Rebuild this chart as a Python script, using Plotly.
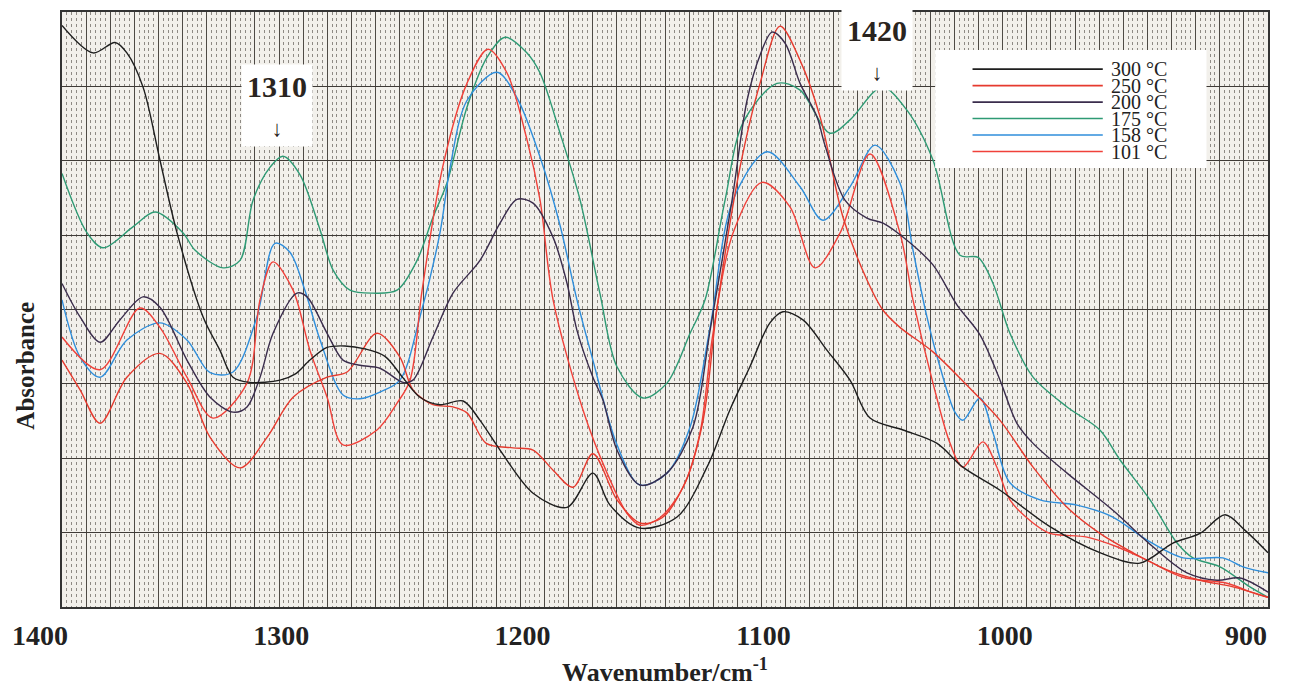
import plotly.graph_objects as go

# ---------------- data (wavenumber in cm-1, absorbance in arbitrary units) ----------------
wn_300 = [1400, 1387.1, 1378.0, 1373.1, 1366.4, 1359.4, 1352.3, 1341.5, 1334.5, 1329.1,
          1322.1, 1309.6, 1303.4, 1297.2, 1290.1, 1282.7, 1274.4, 1266.1, 1258.6, 1251.6,
          1243.3, 1233.7, 1226.7, 1218.4, 1204.7, 1190.6, 1179.9, 1172.8, 1160.4, 1145.0,
          1132.6, 1123.1, 1114.8, 1106.5, 1101.1, 1092.8, 1082.8, 1073.3, 1065.0, 1051.3,
          1037.2, 1026.5, 1011.1, 990.4, 969.7, 953.1, 939.4, 928.2, 917.8, 909.5, 900]
abs_300 = [7.82, 7.45, 7.59, 7.45, 6.99, 6.01, 5.03, 3.90, 3.45, 3.09,
           3.02, 3.05, 3.13, 3.32, 3.49, 3.51, 3.47, 3.37, 3.08, 2.82,
           2.72, 2.77, 2.51, 2.11, 1.53, 1.34, 1.80, 1.37, 1.06, 1.21,
           1.88, 2.65, 3.23, 3.82, 3.97, 3.86, 3.45, 3.05, 2.54, 2.38,
           2.20, 1.88, 1.57, 1.08, 0.73, 0.59, 0.86, 0.99, 1.24, 1.03, 0.73]

wn_250 = [1400, 1392.5, 1384.2, 1373.1, 1359.4, 1348.2, 1338.6, 1326.2, 1315.0, 1304.2,
          1290.1, 1281.8, 1269.4, 1259.9, 1254.5, 1246.2, 1237.9, 1232.1, 1224.1, 1213.0,
          1204.7, 1196.4, 1188.1, 1179.9, 1169.9, 1160.4, 1151.2, 1141.7, 1134.2, 1128.4,
          1118.9, 1110.6, 1102.3, 1094.0, 1085.7, 1076.2, 1066.3, 1059.6, 1052.6, 1038.9,
          1024.8, 1011.1, 997.4, 983.3, 969.7, 956.0, 941.9, 928.2, 914.5, 900]
abs_250 = [3.32, 2.92, 2.47, 3.09, 3.41, 3.01, 2.28, 1.87, 2.28, 2.82,
           3.09, 3.16, 3.68, 3.36, 2.92, 2.72, 2.69, 2.61, 2.20, 2.14,
           2.11, 1.84, 1.61, 2.06, 1.44, 1.13, 1.20, 1.67, 2.51, 4.03,
           5.91, 7.04, 7.81, 7.35, 6.59, 5.24, 4.40, 3.99, 3.76, 3.43,
           2.98, 2.51, 1.88, 1.34, 0.99, 0.73, 0.50, 0.36, 0.27, 0.13]

wn_200 = [1400, 1392.5, 1384.2, 1376.0, 1366.4, 1359.4, 1348.2, 1338.6, 1329.1, 1323.3,
          1317.9, 1312.5, 1302.6, 1298.4, 1290.1, 1283.5, 1276.5, 1268.2, 1258.6, 1254.5,
          1246.2, 1237.9, 1226.7, 1218.4, 1211.4, 1204.7, 1196.4, 1190.6, 1186.5, 1179.9,
          1175.7, 1169.9, 1160.4, 1149.2, 1138.4, 1131.3, 1122.2, 1116.0, 1110.6, 1105.6,
          1100.2, 1094.0, 1087.0, 1083.7, 1075.4, 1066.3, 1059.6, 1049.7, 1038.9, 1028.9,
          1019.4, 1011.1, 1004.1, 997.4, 983.3, 964.3, 947.7, 933.6, 921.1, 911.6, 900]
abs_200 = [4.35, 3.90, 3.56, 3.86, 4.17, 4.03, 3.32, 2.82, 2.62, 2.69,
           3.09, 3.68, 4.22, 4.17, 3.68, 3.32, 3.25, 3.21, 3.02, 3.05,
           3.63, 4.22, 4.66, 5.16, 5.48, 5.43, 4.97, 4.35, 3.72, 3.09,
           2.78, 2.11, 1.64, 1.80, 2.42, 3.72, 5.47, 6.81, 7.42, 7.73,
           7.58, 7.04, 6.59, 6.21, 5.47, 5.23, 5.16, 4.93, 4.60, 4.06,
           3.66, 3.05, 2.47, 2.20, 1.80, 1.30, 0.81, 0.46, 0.36, 0.39, 0.20]

wn_175 = [1400, 1389.6, 1383.0, 1370.6, 1361.4, 1349.8, 1344.9, 1333.2, 1326.2, 1320.8,
          1313.8, 1308.4, 1301.3, 1293.0, 1287.6, 1280.6, 1271.1, 1261.1, 1252.8, 1246.2,
          1240.4, 1232.1, 1223.8, 1216.3, 1207.2, 1201.8, 1193.5, 1185.2, 1177.0, 1169.9,
          1159.1, 1149.2, 1139.6, 1133.4, 1125.1, 1117.7, 1103.6, 1094.0, 1081.6, 1073.3,
          1060.0, 1049.7, 1038.9, 1027.7, 1020.2, 1014.0, 1007.0, 997.4, 983.3, 969.7,
          961.4, 948.9, 937.7, 931.1, 919.9, 907.5, 900]
abs_175 = [5.83, 5.03, 4.83, 5.11, 5.31, 5.03, 4.80, 4.56, 4.66, 5.47,
           5.91, 6.06, 5.81, 5.07, 4.53, 4.26, 4.22, 4.26, 4.66, 5.24,
           5.70, 6.72, 7.39, 7.66, 7.45, 7.18, 6.37, 5.47, 4.22, 3.23,
           2.81, 3.01, 3.68, 4.13, 5.47, 6.51, 7.04, 6.95, 6.37, 6.55,
           6.99, 6.68, 6.01, 4.73, 4.70, 4.35, 3.68, 3.09, 2.69, 2.38,
           1.98, 1.44, 0.86, 0.66, 0.54, 0.27, 0.13]

wn_158 = [1400, 1392.5, 1384.2, 1373.1, 1359.4, 1348.2, 1338.6, 1329.1, 1319.2, 1311.7,
          1305.5, 1299.3, 1293.0, 1283.5, 1276.5, 1268.2, 1259.9, 1251.6, 1243.3, 1239.1,
          1232.1, 1219.7, 1211.4, 1201.8, 1193.5, 1186.5, 1179.9, 1169.9, 1160.4, 1149.2,
          1139.6, 1131.3, 1121.8, 1107.7, 1094.0, 1084.5, 1073.3, 1062.9, 1052.6, 1047.2,
          1041.4, 1036.0, 1029.8, 1026.5, 1019.4, 1014.0, 1007.0, 994.5, 979.2, 964.3,
          950.2, 935.2, 918.7, 910.4, 900]
abs_158 = [4.13, 3.36, 3.09, 3.59, 3.82, 3.59, 3.15, 3.16, 3.90, 4.89,
           4.77, 4.26, 3.59, 2.85, 2.80, 2.89, 3.05, 3.90, 5.03, 5.91,
           6.81, 7.19, 6.85, 6.05, 5.13, 4.13, 3.32, 2.18, 1.64, 1.80,
           2.42, 3.76, 5.47, 6.12, 5.65, 5.20, 5.65, 6.21, 5.70, 4.80,
           3.90, 3.23, 2.62, 2.51, 2.81, 2.34, 1.67, 1.44, 1.37, 1.21,
           0.90, 0.66, 0.66, 0.54, 0.46]

wn_101 = [1400, 1384.2, 1367.7, 1359.4, 1348.2, 1337.4, 1323.3, 1317.9, 1312.5, 1304.2,
          1297.2, 1290.1, 1283.5, 1269.4, 1261.1, 1255.7, 1250.7, 1242.0, 1232.1, 1223.4,
          1215.5, 1207.2, 1201.8, 1196.4, 1184.0, 1174.0, 1165.8, 1160.4, 1152.1, 1142.5,
          1135.5, 1130.1, 1121.8, 1109.8, 1098.2, 1087.8, 1077.4, 1065.0, 1052.6, 1047.2,
          1038.9, 1031.8, 1026.5, 1018.2, 1012.4, 1007.0, 997.4, 990.4, 975.0, 962.6,
          950.2, 935.2, 917.0, 906.2, 900]
abs_101 = [3.63, 3.19, 4.02, 3.76, 3.09, 2.54, 3.01, 4.13, 4.64, 4.26,
           3.45, 2.82, 2.18, 2.38, 2.74, 3.05, 4.26, 5.94, 7.04, 7.50,
           7.18, 6.28, 5.47, 4.13, 2.65, 1.80, 1.26, 1.10, 1.20, 1.61,
           2.34, 3.68, 5.03, 5.71, 5.38, 4.56, 5.03, 6.09, 5.03, 4.13,
           3.01, 2.20, 1.88, 2.22, 1.88, 1.44, 1.13, 0.99, 0.94, 0.81,
           0.63, 0.40, 0.32, 0.19, 0.13]

series_names = ["300 °C", "250 °C", "200 °C", "175 °C", "158 °C", "101 °C"]
series_colors = ["#1e1e1e", "#e63a2e", "#3a2c4c", "#2e9a74", "#2f8edb", "#f0413a"]
series_x = [wn_300, wn_250, wn_200, wn_175, wn_158, wn_101]
series_y = [abs_300, abs_250, abs_200, abs_175, abs_158, abs_101]

x_tick_values = [1400, 1300, 1200, 1100, 1000, 900]
x_tick_labels = ["1400", "1300", "1200", "1100", "1000", "900"]

peak_labels = ["1310", "1420"]
peak_label_x = [1311, 1062]
peak_label_y = [6.74, 7.49]

SERIF = "Liberation Serif, Times New Roman, serif"

fig = go.Figure()

draw_order = [3, 4, 5, 1, 2, 0]
for i in draw_order:
    fig.add_trace(go.Scatter(
        x=series_x[i], y=series_y[i], mode="lines", name=series_names[i],
        line=dict(color=series_colors[i], width=1.4, shape="spline", smoothing=0.9),
        showlegend=False, hoverinfo="skip"))

# graph-paper grid: dark lines every 10 cm-1 (labels only at the hundreds),
# fine dotted lines every 2 cm-1, dark horizontal line every absorbance unit
grid_vals = list(range(900, 1401, 10))
grid_text = [x_tick_labels[x_tick_values.index(v)] if v in x_tick_values else "" for v in grid_vals]

fig.update_xaxes(
    range=[1400, 900], tickmode="array", tickvals=grid_vals, ticktext=grid_text,
    showgrid=True, gridcolor="#4e4a45", gridwidth=1,
    minor=dict(tickmode="linear", tick0=900, dtick=2, showgrid=True,
               gridcolor="#8e8a84", griddash="dot", gridwidth=1),
    ticks="", ticklabelstandoff=3, ticklabelshift=22,
    tickfont=dict(family=SERIF, size=28, color="#222", weight="bold"),
    showline=True, mirror=True, linecolor="#333", linewidth=1.5, zeroline=False,
    automargin=False,
    title=dict(text="Wavenumber/cm<sup>-1</sup>", standoff=12,
               font=dict(family=SERIF, size=26, color="#222", weight="bold")))

fig.update_yaxes(
    range=[0, 8], dtick=1, showgrid=True, gridcolor="#3e3a36", gridwidth=1.2,
    showticklabels=False, ticks="", zeroline=False, automargin=False,
    showline=True, mirror=True, linecolor="#333", linewidth=1.5)

# y-axis title, placed lower than centre as in the original figure
fig.add_annotation(x=-0.031, y=0.405, xref="paper", yref="paper", showarrow=False,
                   text="<b>Absorbance</b>", textangle=-90,
                   xanchor="center", yanchor="middle",
                   font=dict(family=SERIF, size=25, color="#222"))

# peak labels
for txt, px, py in zip(peak_labels, peak_label_x, peak_label_y):
    fig.add_annotation(
        x=px, y=py, xref="x", yref="y", showarrow=False,
        text=f"<b>{txt}</b><br><span style='font-size:22px'>↓</span>",
        font=dict(family=SERIF, size=30, color="#2a2420"),
        bgcolor="white", borderpad=5, align="center")

# custom legend (long line samples, stacked labels)
leg_x0, leg_x1 = 0.724, 0.949
leg_top, leg_bottom = 0.936, 0.738
line_x0, line_x1 = 0.755, 0.863
first_row, row_step = 0.904, 0.0277
fig.add_shape(type="rect", xref="paper", yref="paper", x0=leg_x0, x1=leg_x1,
              y0=leg_bottom, y1=leg_top, fillcolor="white", line=dict(width=0), layer="above")
for k, (name, col) in enumerate(zip(series_names, series_colors)):
    yy = first_row - k * row_step
    fig.add_shape(type="line", xref="paper", yref="paper", x0=line_x0, x1=line_x1,
                  y0=yy, y1=yy, line=dict(color=col, width=1.6), layer="above")
    fig.add_annotation(x=line_x1 + 0.005, y=yy, xref="paper", yref="paper",
                       xanchor="left", yanchor="middle", showarrow=False, text=name,
                       font=dict(family=SERIF, size=20, color="#222"))

fig.update_layout(
    width=1291, height=691,
    margin=dict(l=62, r=23, t=12, b=84),
    paper_bgcolor="white", plot_bgcolor="#f2f0eb",
    showlegend=False)

# remove the default page margin so the figure sits at the window's top-left corner
fig.write_html("out.html", config={"displayModeBar": False},
               post_script="document.body.style.margin='0px';document.body.style.overflow='hidden';")
